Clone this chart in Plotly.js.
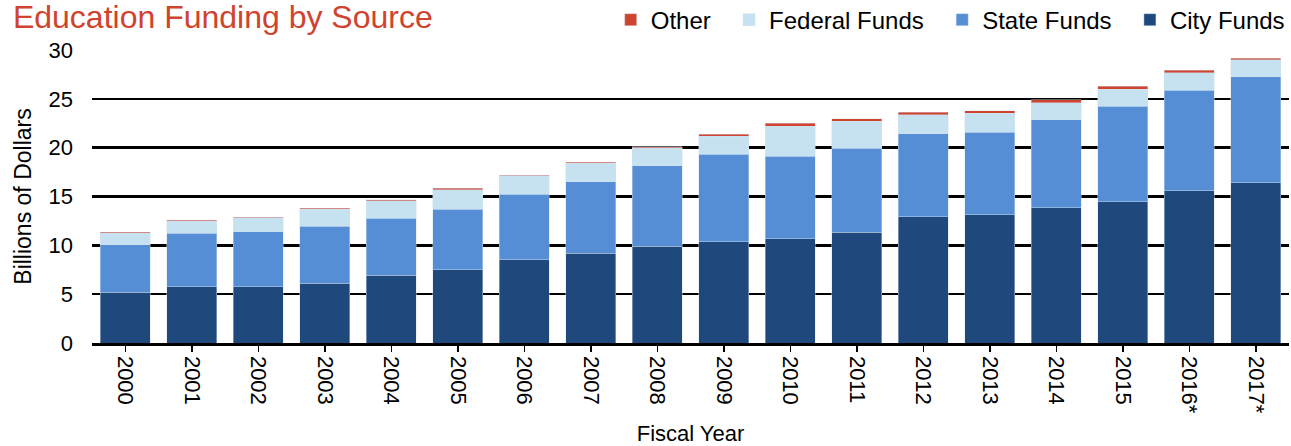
<!DOCTYPE html>
<html>
<head>
<meta charset="utf-8">
<script src="https://cdn.plot.ly/plotly-3.0.1.min.js"></script>
<style>
html, body { margin: 0; padding: 0; background: #fff; }
#chart { width: 1291px; height: 446px; }
</style>
</head>
<body>
<div id="chart"></div>
<script>
const years = ['2000','2001','2002','2003','2004','2005','2006','2007','2008','2009','2010','2011','2012','2013','2014','2015','2016*','2017*'];
const cityFunds = [5.2, 5.77, 5.77, 6.1, 6.96, 7.5, 8.53, 9.18, 9.93, 10.37, 10.68, 11.33, 12.93, 13.13, 13.85, 14.46, 15.59, 16.41];
const stateFunds = [4.86, 5.46, 5.63, 5.88, 5.8, 6.22, 6.72, 7.33, 8.22, 8.97, 8.46, 8.6, 8.5, 8.47, 9.01, 9.77, 10.31, 10.85];
const federalFunds = [1.17, 1.22, 1.43, 1.74, 1.81, 1.97, 1.88, 1.91, 1.84, 1.81, 3.04, 2.79, 1.94, 1.91, 1.74, 1.73, 1.77, 1.74];
const otherFunds = [0.1, 0.11, 0.07, 0.1, 0.1, 0.14, 0.07, 0.11, 0.11, 0.24, 0.3, 0.24, 0.27, 0.27, 0.3, 0.31, 0.24, 0.17];
const yTicks = [0, 5, 10, 15, 20, 25, 30];

const FONT = 'Liberation Sans, Arial, sans-serif';
const edge = {color: 'rgba(210,225,240,0.55)', width: 0.8};
const PAD = '\u00a0\u00a0';

function barTrace(name, vals, color) {
  return {type: 'bar', name: name, x: years, y: vals,
          marker: {color: color, line: edge}, hoverinfo: 'x+y+name'};
}

const data = [
  barTrace('City Funds', cityFunds, '#1f497d'),
  barTrace('State Funds' + PAD, stateFunds, '#558ed5'),
  barTrace('Federal Funds' + PAD, federalFunds, '#c6e2f1'),
  barTrace('Other' + PAD, otherFunds, '#d0432e')
];

const layout = {
  width: 1291, height: 446,
  margin: {l: 92, r: 2, t: 50, b: 103, pad: 0},
  paper_bgcolor: '#fff', plot_bgcolor: '#fff',
  font: {family: FONT, color: '#000', size: 22},
  barmode: 'stack', bargap: 0.25,
  title: {text: 'Education Funding by Source', font: {family: FONT, size: 32, color: '#d0432e'},
          x: 0.01, xref: 'container', xanchor: 'left', y: 0.962, yref: 'container', yanchor: 'middle'},
  showlegend: true,
  legend: {orientation: 'h', traceorder: 'reversed', xref: 'container', yref: 'container',
           x: 0.999, xanchor: 'right', y: 0.955, yanchor: 'middle',
           font: {family: FONT, size: 24, color: '#000'}, bgcolor: 'rgba(0,0,0,0)', itemwidth: 30},
  xaxis: {
    type: 'category', tickangle: 90, tickfont: {size: 22},
    ticks: 'outside', ticklen: 6, tickwidth: 1.5, tickcolor: '#000',
    showline: true, linecolor: '#000', linewidth: 2.5, showgrid: false,
    title: {text: 'Fiscal Year', font: {size: 22}, standoff: 14},
    automargin: false
  },
  yaxis: {
    range: [0, 30], tickvals: yTicks, tickfont: {size: 22},
    showgrid: true, gridcolor: '#000', gridwidth: 2.5,
    zeroline: false, showline: false, ticks: '', ticklabelstandoff: 18,
    title: {text: 'Billions of Dollars', font: {size: 23}, standoff: 10},
    automargin: false
  },
  annotations: [
    {text: '*City forecast', xref: 'paper', yref: 'paper', x: 0.883, y: -0.335,
     xanchor: 'left', yanchor: 'top', showarrow: false, font: {family: FONT, size: 20, color: '#000'}}
  ]
};

Plotly.newPlot('chart', data, layout, {displayModeBar: false, staticPlot: true});
</script>
</body>
</html>
